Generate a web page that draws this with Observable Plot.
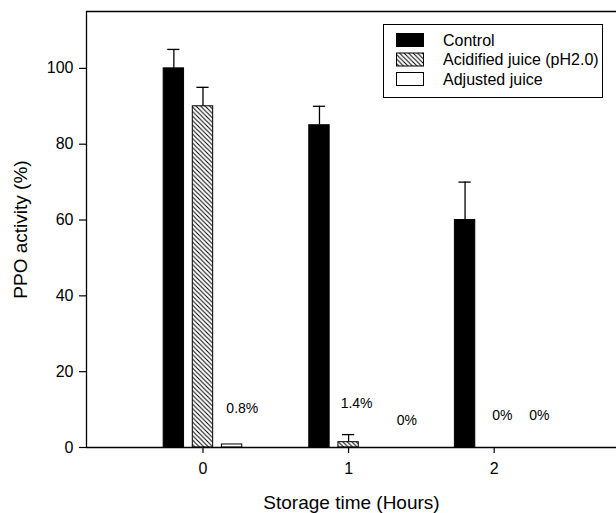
<!DOCTYPE html>
<html><head><meta charset="utf-8">
<script src="https://cdn.jsdelivr.net/npm/d3@7"></script>
<script src="https://cdn.jsdelivr.net/npm/@observablehq/plot@0.6"></script>
<style>body{margin:0;background:#fff}</style>
</head><body><div id="chart"></div>
<script>
const times = [0, 1, 2];
const seriesNames = ["Control", "Acidified juice (pH2.0)", "Adjusted juice"];
const control = [100, 85, 60];
const controlErr = [5, 5, 10];
const acidified = [90, 1.4, 0];
const acidifiedErr = [5, 2, 0];
const adjusted = [0.8, 0, 0];
const adjustedErr = [0, 0, 0];
const noteText = ["0.8%", "1.4%", "0%", "0%", "0%"];
const noteTime = [0.27, 1.055, 1.4, 2.056, 2.31];
const noteValue = [10.3, 11.6, 7.1, 8.4, 8.4];
const yTicks = [0, 20, 40, 60, 80, 100];
const xTicks = [0, 1, 2];
const xLabel = "Storage time (Hours)";
const yLabel = "PPO activity (%)";

const fills = ["black", "url(#hatch)", "white"];
const valuesBy = [control, acidified, adjusted];
const errsBy = [controlErr, acidifiedErr, adjustedErr];
const rows = [];
seriesNames.forEach((s, k) => times.forEach((t, j) => rows.push({series: s, k, time: t, value: valuesBy[k][j], err: errsBy[k][j]})));
const pos = d => d.time + (d.k - 1) * 0.2;
const halfW = 0.07, capW = 0.042;
const notes = noteText.map((t, i) => ({text: t, time: noteTime[i], value: noteValue[i]}));

const defsMark = () => {
  const defs = d3.create("svg:defs");
  const p = defs.append("pattern").attr("id", "hatch").attr("patternUnits", "userSpaceOnUse")
    .attr("width", 4.5).attr("height", 4.5);
  p.append("rect").attr("width", 4.5).attr("height", 4.5).attr("fill", "white");
  p.append("path").attr("d", "M-1,-1L5.5,5.5M-1,3.5L1,5.5M3.5,-1L5.5,1").attr("stroke", "black").attr("stroke-width", 1);
  return defs.node();
};

const legendMark = () => {
  const g = d3.create("svg:g").attr("font-size", 16).attr("text-anchor", "start")
    .attr("font-family", "Liberation Sans, Arial, sans-serif");
  g.append("rect").attr("x", 383.5).attr("y", 24.5).attr("width", 219).attr("height", 73)
    .attr("fill", "white").attr("stroke", "black").attr("stroke-width", 1);
  const cy = [40, 59.5, 79];
  seriesNames.forEach((s, i) => {
    g.append("rect").attr("x", 396.5).attr("y", cy[i] - 6.5).attr("width", 27).attr("height", 13)
      .attr("fill", fills[i]).attr("stroke", "black").attr("stroke-width", 1);
    g.append("text").attr("x", 443).attr("y", cy[i]).attr("dy", "0.36em")
      .attr("text-anchor", "start").attr("fill", "black").text(s);
  });
  return g.node();
};

const marks = [defsMark];
seriesNames.forEach((s, k) => {
  marks.push(Plot.rectY(rows.filter(d => d.k === k && d.value > 0), {
    x1: d => pos(d) - halfW, x2: d => pos(d) + halfW, y1: 0, y2: "value",
    fill: fills[k], stroke: "black", strokeWidth: 1
  }));
});
const errRows = rows.filter(d => d.err > 0);
marks.push(
  Plot.ruleX(errRows, {x: pos, y1: "value", y2: d => d.value + d.err, stroke: "black", strokeWidth: 1.3}),
  Plot.ruleY(errRows, {y: d => d.value + d.err, x1: d => pos(d) - capW, x2: d => pos(d) + capW, stroke: "black", strokeWidth: 1.3}),
  Plot.ruleY([0], {stroke: "black", strokeWidth: 1.3}),
  Plot.ruleY([115], {stroke: "black", strokeWidth: 1.3}),
  Plot.ruleX([-0.8], {stroke: "black", strokeWidth: 1.3}),
  Plot.axisY({ticks: yTicks, tickSize: 7, tickPadding: 6, fontSize: 16, label: null, strokeWidth: 1.2, tickFormat: d3.format("d")}),
  Plot.axisX({ticks: xTicks, tickSize: 6, tickPadding: 9, fontSize: 16, label: null, strokeWidth: 1.2, tickFormat: d3.format("d")}),
  Plot.text(notes, {x: "time", y: "value", text: "text", fontSize: 14, fill: "black"}),
  Plot.text([yLabel], {frameAnchor: "left", dx: -66, rotate: -90, textAnchor: "middle", lineAnchor: "middle", fontSize: 19, fill: "black"}),
  Plot.text([xLabel], {frameAnchor: "bottom", dy: 55, textAnchor: "middle", lineAnchor: "middle", fontSize: 19, fill: "black"}),
  legendMark
);

const chart = Plot.plot({
  width: 616, height: 513,
  marginLeft: 86, marginRight: 0, marginTop: 11, marginBottom: 66,
  x: {domain: [-0.8, 2.84]},
  y: {domain: [0, 115]},
  style: {fontFamily: "Liberation Sans, Arial, sans-serif", background: "white", color: "black"},
  marks
});
document.getElementById("chart").appendChild(chart);
</script>
</body></html>
